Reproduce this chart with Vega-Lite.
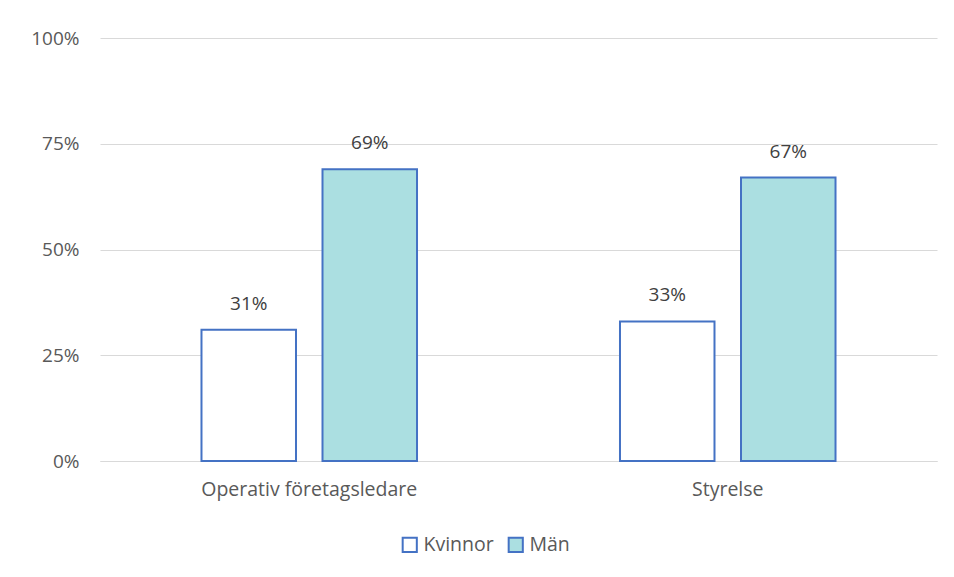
{
  "$schema": "https://vega.github.io/schema/vega-lite/v6.json",
  "width": 837,
  "height": 423,
  "autosize": {"type": "none"},
  "padding": {"left": 100, "top": 38, "right": 17, "bottom": 116},
  "background": "white",
  "data": {
    "values": [
      {"kategori": "Operativ företagsledare", "kon": "Kvinnor", "varde": 0.31},
      {"kategori": "Operativ företagsledare", "kon": "Män", "varde": 0.69},
      {"kategori": "Styrelse", "kon": "Kvinnor", "varde": 0.33},
      {"kategori": "Styrelse", "kon": "Män", "varde": 0.67}
    ]
  },
  "config": {
    "view": {"stroke": null},
    "font": "Open Sans"
  },
  "encoding": {
    "x": {
      "field": "kategori",
      "type": "nominal",
      "sort": null,
      "scale": {"paddingInner": 0.485, "paddingOuter": 0.2425},
      "axis": {
        "title": null,
        "labelAngle": 0,
        "labelFontSize": 19.5,
        "labelColor": "#595959",
        "labelPadding": 19,
        "labelLimit": 0,
        "ticks": false,
        "domainColor": "#d9d9d9",
        "domainWidth": 1
      }
    },
    "xOffset": {
      "field": "kon",
      "type": "nominal",
      "sort": ["Kvinnor", "Män"],
      "scale": {"paddingInner": 0.219, "paddingOuter": 0}
    },
    "y": {
      "field": "varde",
      "type": "quantitative",
      "scale": {"domain": [0, 1]},
      "axis": {
        "title": null,
        "values": [0, 0.25, 0.5, 0.75, 1],
        "format": ".0%",
        "labelFontSize": 19,
        "labelColor": "#595959",
        "labelPadding": 21,
        "ticks": false,
        "domain": false,
        "gridColor": "#d9d9d9",
        "gridWidth": 1
      }
    }
  },
  "layer": [
    {
      "mark": {"type": "bar", "stroke": "#4472c4", "strokeWidth": 2},
      "encoding": {
        "fill": {
          "field": "kon",
          "type": "nominal",
          "sort": ["Kvinnor", "Män"],
          "scale": {"domain": ["Kvinnor", "Män"], "range": ["#ffffff", "#abdfe1"]},
          "legend": {
            "title": null,
            "orient": "none",
            "legendX": 300,
            "legendY": 497,
            "direction": "horizontal",
            "labelFontSize": 19.5,
            "labelColor": "#595959",
            "symbolType": "square",
            "symbolSize": 200,
            "symbolStrokeColor": "#4472c4",
            "symbolStrokeWidth": 2,
            "symbolOpacity": 1,
            "columnPadding": 10,
            "labelOffset": 4
          }
        }
      }
    },
    {
      "mark": {"type": "text", "baseline": "middle", "dy": -26, "fontSize": 19, "color": "#404040"},
      "encoding": {
        "text": {"field": "varde", "type": "quantitative", "format": ".0%"}
      }
    }
  ]
}
